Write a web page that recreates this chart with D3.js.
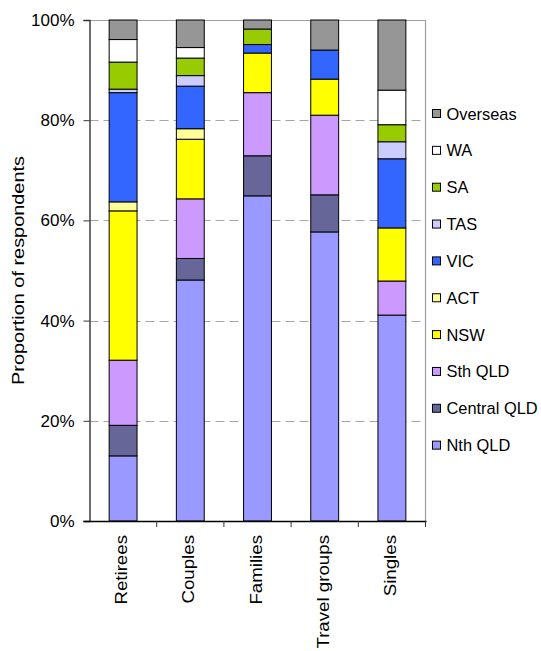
<!DOCTYPE html>
<html>
<head>
<meta charset="utf-8">
<script src="https://cdn.jsdelivr.net/npm/d3@7"></script>
<style>
  html, body { margin: 0; padding: 0; background: #fff; }
  svg { display: block; font-family: "Liberation Sans", Arial, sans-serif; }
</style>
</head>
<body>
<svg id="chart" width="541" height="651"></svg>
<script>
// Visitor groups along the x axis
const groups = ["Retirees", "Couples", "Families", "Travel groups", "Singles"];

// Origin regions, stacked bottom to top
const regions = ["Nth QLD", "Central QLD", "Sth QLD", "NSW", "ACT", "VIC", "TAS", "SA", "WA", "Overseas"];

// Percentage of respondents from each region, one array per region (order follows groups)
const nthQLD     = [13.0, 48.1, 64.9, 57.7, 41.1];
const centralQLD = [ 6.1,  4.3,  8.0,  7.4,  0.0];
const sthQLD     = [13.0, 11.9, 12.6, 15.9,  6.8];
const nsw        = [29.8, 11.9,  7.9,  7.2, 10.6];
const act        = [ 1.8,  2.1,  0.0,  0.0,  0.0];
const vic        = [21.8,  8.5,  1.7,  5.8, 13.8];
const tas        = [ 0.7,  2.1,  0.0,  0.0,  3.4];
const sa         = [ 5.4,  3.5,  3.1,  0.0,  3.4];
const wa         = [ 4.5,  2.1,  0.0,  0.0,  6.9];
const overseas   = [ 3.9,  5.5,  1.8,  6.0, 14.0];

const yTicks = [0, 20, 40, 60, 80, 100];

const colours = {
  "Nth QLD": "#9999FF",
  "Central QLD": "#666699",
  "Sth QLD": "#CC99FF",
  "NSW": "#FFFF00",
  "ACT": "#FFFF99",
  "VIC": "#3366FF",
  "TAS": "#CCCCFF",
  "SA": "#99CC00",
  "WA": "#FFFFFF",
  "Overseas": "#969696"
};

const seriesValues = [nthQLD, centralQLD, sthQLD, nsw, act, vic, tas, sa, wa, overseas];
const table = groups.map((g, i) => {
  const row = { group: g };
  regions.forEach((r, k) => { row[r] = seriesValues[k][i]; });
  return row;
});

// Normalise each bar to 100%
const stack = d3.stack().keys(regions).offset(d3.stackOffsetExpand);
const layers = stack(table);

const svg = d3.select("#chart");
const plotLeft = 89.5, plotRight = 425.5, plotTop = 20, plotBottom = 521;

const x = d3.scaleBand().domain(groups).range([plotLeft, plotRight]).paddingInner(0.585).paddingOuter(0.2925);
const y = d3.scaleLinear().domain([0, 1]).range([plotBottom, plotTop]);

// Dashed gridlines
svg.append("g")
  .selectAll("line")
  .data(yTicks.filter(t => t > 0 && t < 100))
  .join("line")
  .attr("x1", plotLeft).attr("x2", plotRight)
  .attr("y1", d => Math.round(y(d / 100)) + 0.5)
  .attr("y2", d => Math.round(y(d / 100)) + 0.5)
  .attr("stroke", "#a6a6a6")
  .attr("stroke-width", 1)
  .attr("stroke-dasharray", "9,5");

// Plot area border (top and right)
svg.append("path")
  .attr("d", `M${plotLeft},${plotTop + 0.5}H${plotRight}V${plotBottom}`)
  .attr("fill", "none")
  .attr("stroke", "#a0a0a0")
  .attr("stroke-width", 1.2);

// Stacked bars
svg.append("g")
  .selectAll("g")
  .data(layers)
  .join("g")
  .attr("fill", d => colours[d.key])
  .selectAll("rect")
  .data(d => d.filter(s => s[1] - s[0] > 0))
  .join("rect")
  .attr("x", d => x(d.data.group))
  .attr("width", x.bandwidth())
  .attr("y", d => y(d[1]))
  .attr("height", d => y(d[0]) - y(d[1]))
  .attr("stroke", "#000")
  .attr("stroke-width", 1);

// Y axis
const yAxis = d3.axisLeft(y)
  .tickValues(yTicks.map(t => t / 100))
  .tickFormat(d => Math.round(d * 100) + "%")
  .tickSize(6)
  .tickPadding(9);
const gy = svg.append("g")
  .attr("transform", `translate(${plotLeft},0)`)
  .call(yAxis);
gy.select(".domain").attr("stroke", "#333").attr("stroke-width", 1.4);
gy.selectAll(".tick line").attr("stroke", "#333");
gy.selectAll("text")
  .attr("font-size", 17)
  .attr("font-family", "Liberation Sans, Arial, sans-serif")
  .attr("fill", "#000");

// X axis with ticks between categories
const gx = svg.append("g").attr("transform", `translate(0,${plotBottom})`);
gx.append("line")
  .attr("x1", plotLeft - 6).attr("x2", plotRight + 1)
  .attr("y1", 0.5).attr("y2", 0.5)
  .attr("stroke", "#000").attr("stroke-width", 1.4);
const step = x.step();
const boundaries = d3.range(groups.length + 1).map(i => plotLeft + i * step);
gx.selectAll("line.sep")
  .data(boundaries.slice(1))
  .join("line")
  .attr("class", "sep")
  .attr("x1", d => d).attr("x2", d => d)
  .attr("y1", 0).attr("y2", 6)
  .attr("stroke", "#333");

// Category labels, rotated and slightly stretched along the reading direction
svg.append("g")
  .selectAll("text")
  .data(groups)
  .join("text")
  .attr("transform", d => `translate(${x(d) + x.bandwidth() / 2 + 4},${plotBottom + 14}) rotate(-90) scale(1.1,1)`)
  .attr("text-anchor", "end")
  .attr("font-size", 17)
  .attr("fill", "#000")
  .text(d => d);

// Y axis title
svg.append("text")
  .attr("transform", `translate(18,${(plotTop + plotBottom) / 2}) rotate(-90) scale(1.17,1)`)
  .attr("text-anchor", "middle")
  .attr("dominant-baseline", "central")
  .attr("font-size", 17)
  .attr("fill", "#000")
  .text("Proportion of respondents");

// Legend, top entry is the top of the stack
const legendOrder = regions.slice().reverse();
const legend = svg.append("g")
  .selectAll("g")
  .data(legendOrder)
  .join("g")
  .attr("transform", (d, i) => `translate(432.5,${113.5 + i * 36.85})`);
legend.append("rect")
  .attr("x", 0).attr("y", -4)
  .attr("width", 8).attr("height", 8)
  .attr("fill", d => colours[d])
  .attr("stroke", "#000")
  .attr("stroke-width", 1);
legend.append("text")
  .attr("x", 14).attr("y", 0)
  .attr("dominant-baseline", "central")
  .attr("font-size", 16.4)
  .attr("fill", "#000")
  .text(d => d);
</script>
</body>
</html>
